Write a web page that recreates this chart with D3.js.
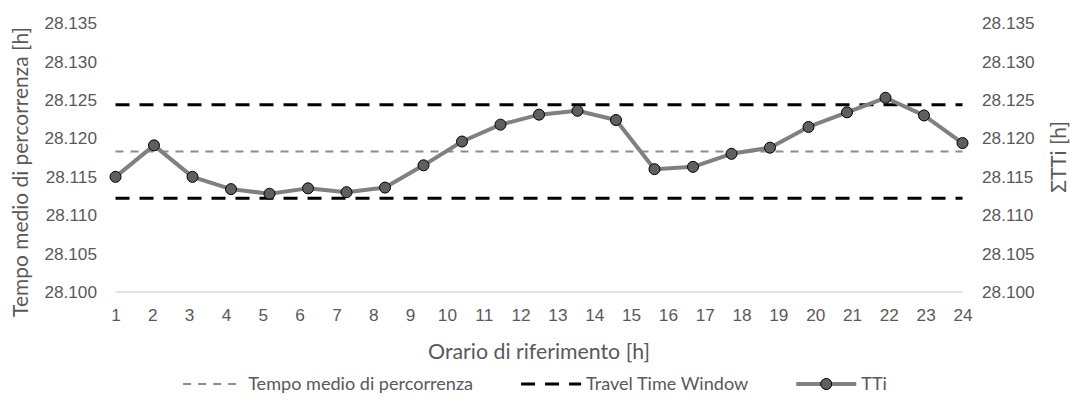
<!DOCTYPE html>
<html>
<head>
<meta charset="utf-8">
<script src="https://cdn.jsdelivr.net/npm/d3@7"></script>
<style>
  html, body { margin: 0; padding: 0; background: #fff; }
  svg { display: block; font-family: Lato, "Open Sans", sans-serif; }
</style>
</head>
<body>
<svg id="chart" width="1070" height="410"></svg>
<script>
// ---- Data ----
const hourLabels = ["1","2","3","4","5","6","7","8","9","10","11","12","13","14","15","16","17","18","19","20","21","22","23","24"];
const ttiValues = [28.1150, 28.1191, 28.1150, 28.1134, 28.1128, 28.1135, 28.1130, 28.1136, 28.1165, 28.1196, 28.1218, 28.1231,
                   28.1236, 28.1224, 28.1160, 28.1163, 28.1180, 28.1188, 28.1215, 28.1234, 28.1253, 28.1230, 28.1194];
const meanTime = 28.1183;
const windowUpper = 28.1244;
const windowLower = 28.1122;
const yTicks = [28.100, 28.105, 28.110, 28.115, 28.120, 28.125, 28.130, 28.135];
const legendLabels = ["Tempo medio di percorrenza", "Travel Time Window", "TTi"];

// ---- Layout ----
const svg = d3.select("#chart");
const plotL = 115.5, plotR = 962.5, plotT = 23.3, plotB = 292;
const textColor = "#595959";

// font size so that a sample string spans a given width
function fitSize(str, target) {
  const t = svg.append("text").style("font-size", "20px").text(str);
  const w = t.node().getComputedTextLength();
  t.remove();
  return 20 * target / w;
}
const tickSize = fitSize("28.135", 54);
const legendSize = fitSize(legendLabels[0], 225);
const xTitleSize = fitSize("Orario di riferimento [h]", 222);
const yTitleSize = fitSize("Tempo medio di percorrenza [h]", 290);

const y = d3.scaleLinear().domain([28.100, 28.135]).range([plotB, plotT]);
const xLab = d3.scalePoint().domain(hourLabels).range([plotL, plotR]);
const idx = d3.range(ttiValues.length);
const xSer = d3.scalePoint().domain(idx).range([plotL, plotR]);

// baseline gridline at 28.100
svg.append("line")
  .attr("x1", plotL).attr("x2", plotR)
  .attr("y1", y(28.100)).attr("y2", y(28.100))
  .attr("stroke", "#d9d9d9").attr("stroke-width", 1.3);

// Left axis
const yAxisL = d3.axisLeft(y).tickValues(yTicks).tickFormat(d3.format(".3f")).tickSize(0).tickPadding(0);
const gL = svg.append("g").attr("transform", "translate(97,0)").call(yAxisL);
gL.select(".domain").remove();
gL.selectAll("text").attr("fill", textColor).style("font-size", tickSize + "px");

// Right axis
const yAxisR = d3.axisRight(y).tickValues(yTicks).tickFormat(d3.format(".3f")).tickSize(0).tickPadding(0);
const gR = svg.append("g").attr("transform", "translate(982,0)").call(yAxisR);
gR.select(".domain").remove();
gR.selectAll("text").attr("fill", textColor).style("font-size", tickSize + "px");

// X axis
const xAxis = d3.axisBottom(xLab).tickSize(0).tickPadding(0);
const gX = svg.append("g").attr("transform", "translate(0,309)").call(xAxis);
gX.select(".domain").remove();
gX.selectAll("text").attr("fill", textColor).style("font-size", tickSize + "px");

// Titles
svg.append("text").attr("x", 539).attr("y", 359).attr("text-anchor", "middle")
  .attr("fill", textColor).style("font-size", xTitleSize + "px").text("Orario di riferimento [h]");
svg.append("text").attr("transform", "translate(28,172) rotate(-90)").attr("text-anchor", "middle")
  .attr("fill", textColor).style("font-size", yTitleSize + "px").text("Tempo medio di percorrenza [h]");
svg.append("text").attr("transform", "translate(1066,157) rotate(-90)").attr("text-anchor", "middle")
  .attr("fill", textColor).style("font-size", yTitleSize + "px").text("ΣTTi [h]");

// Horizontal reference series (constant across the categories)
const constLine = d3.line().x((d, i) => xSer(i)).y(d => y(d));
const meanSeries = idx.map(() => meanTime);
const upperSeries = idx.map(() => windowUpper);
const lowerSeries = idx.map(() => windowLower);

const styles = [
  { stroke: "#8c8c8c", width: 2, dash: "8,7" },
  { stroke: "#000000", width: 3, dash: "14,10" },
  { stroke: "#808080", width: 4, dash: null }
];

svg.append("path").datum(meanSeries).attr("d", constLine)
  .attr("fill", "none").attr("stroke", styles[0].stroke).attr("stroke-width", styles[0].width).attr("stroke-dasharray", styles[0].dash);
[upperSeries, lowerSeries].forEach(s => {
  svg.append("path").datum(s).attr("d", constLine)
    .attr("fill", "none").attr("stroke", styles[1].stroke).attr("stroke-width", styles[1].width).attr("stroke-dasharray", styles[1].dash);
});

// TTi line
const ttiLine = d3.line().x((d, i) => xSer(i)).y(d => y(d));
svg.append("path").datum(ttiValues).attr("d", ttiLine)
  .attr("fill", "none").attr("stroke", styles[2].stroke).attr("stroke-width", styles[2].width).attr("stroke-linejoin", "round");
svg.selectAll("circle.pt").data(ttiValues).enter().append("circle")
  .attr("class", "pt")
  .attr("cx", (d, i) => xSer(i)).attr("cy", d => y(d)).attr("r", 5.5)
  .attr("fill", "#5f5f5f").attr("stroke", "#000").attr("stroke-width", 1);

// Legend (centred on the chart)
const ly = 384, sampleW = 60, textGap = 5, entryGap = 48;
const lg = svg.append("g").style("font-size", legendSize + "px");
const entries = legendLabels.map((lab, i) => {
  const g = lg.append("g");
  const sampleLine = g.append("line").attr("x1", 0).attr("x2", sampleW).attr("y1", ly).attr("y2", ly)
    .attr("stroke", styles[i].stroke).attr("stroke-width", styles[i].width);
  if (styles[i].dash) sampleLine.attr("stroke-dasharray", styles[i].dash);
  if (i === 2) {
    g.append("circle").attr("cx", sampleW / 2).attr("cy", ly).attr("r", 5.5)
      .attr("fill", "#5f5f5f").attr("stroke", "#000").attr("stroke-width", 1);
  }
  const t = g.append("text").attr("x", sampleW + textGap).attr("y", ly).attr("dy", "0.35em")
    .attr("fill", textColor).text(lab);
  return { g, w: sampleW + textGap + t.node().getComputedTextLength() };
});
const totalW = d3.sum(entries, e => e.w) + entryGap * (entries.length - 1);
let cx = 535 - totalW / 2;
entries.forEach(e => { e.g.attr("transform", `translate(${cx},0)`); cx += e.w + entryGap; });
</script>
</body>
</html>
